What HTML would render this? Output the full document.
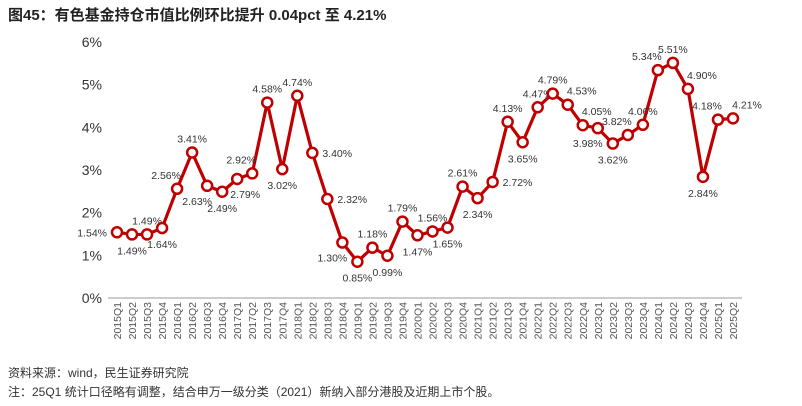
<!DOCTYPE html>
<html><head><meta charset="utf-8">
<style>
body{margin:0;background:#fff;width:802px;height:406px;overflow:hidden;font-family:"Liberation Sans","Noto Sans CJK SC",sans-serif;}
#title{position:absolute;left:8px;top:4px;font-size:15px;font-weight:bold;color:#222;}
.note{position:absolute;left:8px;font-size:12px;color:#333;}
</style></head><body>
<div id="title">图45：有色基金持仓市值比例环比提升 0.04pct 至 4.21%</div>
<svg id="chart" width="802" height="406" style="position:absolute;left:0;top:0"></svg>
<div class="note" style="top:364px">资料来源：wind，民生证券研究院</div>
<div class="note" style="top:383px">注：25Q1 统计口径略有调整，结合申万一级分类（2021）新纳入部分港股及近期上市个股。</div>
<script>
const categories=[];
for(let y=2015;y<=2025;y++)for(let q=1;q<=4;q++){if(y===2025&&q>2)break;categories.push(y+'Q'+q);}
const values=[1.54,1.49,1.49,1.64,2.56,3.41,2.63,2.49,2.79,2.92,4.58,3.02,4.74,3.40,2.32,1.30,0.85,1.18,0.99,1.79,1.47,1.56,1.65,2.61,2.34,2.72,4.13,3.65,4.47,4.79,4.53,4.05,3.98,3.62,3.82,4.06,5.34,5.51,4.90,2.84,4.18,4.21];
const labelSide=['l','b','a','b','al','a','bl','b','br','al','a','b','a','r','r','bl','b','a','b','a','b','a','b','a','b','r','a','b','a','a','ar','ar','bl','b','al','a','al','a','ar','b','al','ar'];
const yTicks=[0,1,2,3,4,5,6];
const NS='http://www.w3.org/2000/svg';
const svg=document.getElementById('chart');
const X0=117,X1=733,Y0=298,Y6=42;
const xs=i=>X0+(X1-X0)*i/(categories.length-1);
const ys=v=>Y0-(Y0-Y6)*v/6;
function mk(t,a){const e=document.createElementNS(NS,t);for(const k in a)e.setAttribute(k,a[k]);svg.appendChild(e);return e;}
const ax=mk('line',{x1:108,x2:742,y1:Y0,y2:Y0,stroke:'#999','stroke-width':1});


yTicks.forEach(t=>{const e=mk('text',{x:102,y:ys(t)+5,'text-anchor':'end','font-size':'14','fill':'#333'});e.textContent=t+'%';

});
categories.forEach((c,i)=>{const x=xs(i);const e=mk('text',{x:0,y:0,transform:`translate(${x+4},302) rotate(-90)`,'text-anchor':'end','font-size':'10.5','fill':'#555'});e.textContent=c;

});
const line=mk('polyline',{points:values.map((v,i)=>xs(i)+','+ys(v)).join(' '),fill:'none',stroke:'#C00000','stroke-width':3.2,'stroke-linejoin':'round'});


values.forEach((v,i)=>{const x=xs(i),y=ys(v);
const c=mk('circle',{cx:x,cy:y,r:5,fill:'#fff',stroke:'#C00000','stroke-width':2.5});


const s=labelSide[i];let tx=x,ty=y,anc='middle';
if(s==='a'){ty=y-10;}else if(s==='b'){ty=y+20;}else if(s==='r'){tx=x+10;ty=y+4;anc='start';}
else if(s==='l'){tx=x-10;ty=y+4;anc='end';}
else if(s==='al'){tx=x-11;ty=y-10;}else if(s==='ar'){tx=x+14;ty=y-10;}
else if(s==='bl'){tx=x-10;ty=y+19;}else if(s==='br'){tx=x+8;ty=y+19;}
const t=mk('text',{x:tx,y:ty,'text-anchor':anc,'font-size':'10.5','fill':'#333'});t.textContent=v.toFixed(2)+'%';

});
</script>
</body></html>
